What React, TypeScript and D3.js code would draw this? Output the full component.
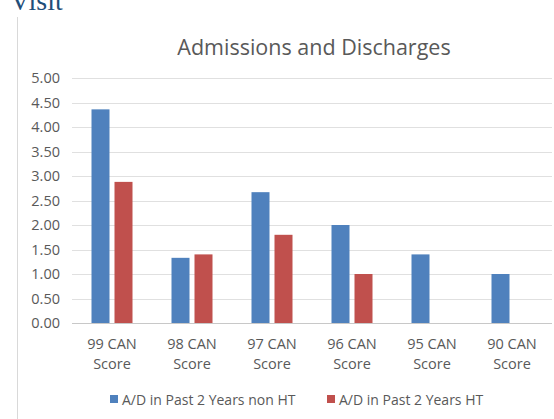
import React from "react";
import * as d3 from "d3";

const categories = ["99 CAN Score", "98 CAN Score", "97 CAN Score", "96 CAN Score", "95 CAN Score", "90 CAN Score"];
const nonHT = [4.36, 1.33, 2.67, 2.0, 1.4, 1.0];
const HT = [2.88, 1.4, 1.8, 1.0, null, null];
const seriesNames = ["A/D in Past 2 Years non HT", "A/D in Past 2 Years HT"];
const colors = ["#4f81bd", "#c0504d"];
const yTicks = [0, 0.5, 1, 1.5, 2, 2.5, 3, 3.5, 4, 4.5, 5];

export default function App() {
  const W = 554, H = 419;
  const left = 72, right = 552, top = 78, bottom = 323;
  const x = d3.scaleBand().domain(categories).range([left, right]);
  const y = d3.scaleLinear().domain([0, 5]).range([bottom, top]);
  const barW = 18, gap = 5;
  const font = "'Open Sans', 'Noto Sans', sans-serif";
  const series = [nonHT, HT];
  return (
    <svg width={W} height={H} style={{ position: "absolute", left: 0, top: 0, background: "#fff" }}>
      <text x={10} y={10} fontFamily="'Liberation Serif', serif" fontSize={28} fill="#1f4e79">Visit</text>
      <line x1={17.5} x2={17.5} y1={17} y2={H} stroke="#d9d9d9" strokeWidth={1} />
      <text x={314} y={55} textAnchor="middle" fontFamily={font} fontSize={21.5} fill="#595959">Admissions and Discharges</text>
      {yTicks.map((t) => (
        <g key={t}>
          <line x1={left} x2={right} y1={Math.round(y(t)) + 0.5} y2={Math.round(y(t)) + 0.5} stroke={t === 0 ? "#c8c8c8" : "#e0e0e0"} />
          <text x={60} y={y(t) + 5} textAnchor="end" fontFamily={font} fontSize={14.5} fill="#595959">{d3.format(".2f")(t)}</text>
        </g>
      ))}
      {categories.map((c, i) => {
        const cx = (x(c) as number) + x.bandwidth() / 2;
        return (
          <g key={c}>
            {series.map((s, k) => {
              const v = s[i];
              if (v == null) return null;
              const bx = k === 0 ? cx - gap / 2 - barW : cx + gap / 2;
              return <rect key={k} x={bx} y={y(v)} width={barW} height={bottom - y(v)} fill={colors[k]} />;
            })}
            <text textAnchor="middle" fontFamily={font} fontSize={14.5} fill="#595959">
              <tspan x={cx} y={349}>{c.split(" ").slice(0, 2).join(" ")}</tspan>
              <tspan x={cx} y={369}>{c.split(" ")[2]}</tspan>
            </text>
          </g>
        );
      })}
      {seriesNames.map((n, k) => {
        const lx = k === 0 ? 110 : 327;
        return (
          <g key={n}>
            <rect x={lx} y={395} width={8} height={8} fill={colors[k]} />
            <text x={lx + 12} y={404.5} fontFamily={font} fontSize={14} fill="#595959">{n}</text>
          </g>
        );
      })}
    </svg>
  );
}
